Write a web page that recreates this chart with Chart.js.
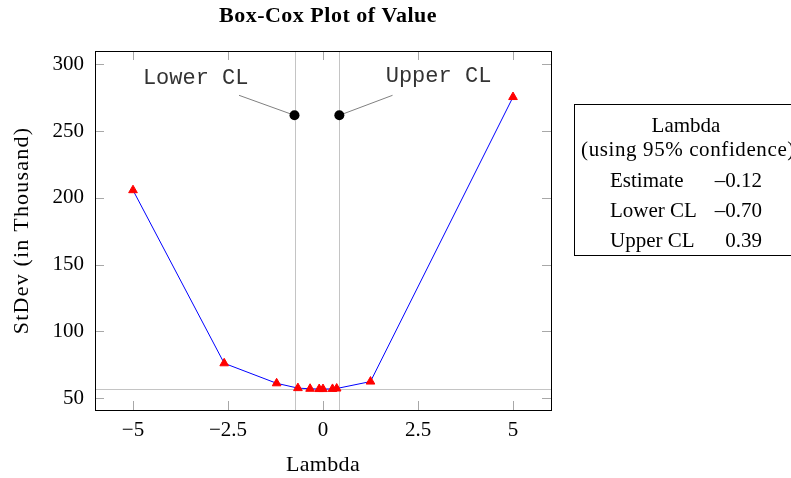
<!DOCTYPE html>
<html>
<head>
<meta charset="utf-8">
<script src="https://cdn.jsdelivr.net/npm/chart.js@4"></script>
<style>
  html, body { margin: 0; padding: 0; background: #fff; }
  #wrap { width: 791px; height: 478px; }
</style>
</head>
<body>
<div id="wrap"><canvas id="c" width="791" height="478"></canvas></div>
<script>
// ---- data ----
const lambdaValues = [-5, -2.6, -1.22, -0.66, -0.34, -0.1, 0.0, 0.25, 0.36, 1.25, 5];
const stdevValues  = [205.7, 76, 61, 57.4, 56.9, 56.7, 56.7, 56.8, 57.1, 62.3, 275.5];
const clLambda = [-0.75, 0.43];
const clStdev  = [261.8, 261.8];
const minStdev = 56.7;
const xTickValues = [-5, -2.5, 0, 2.5, 5];
const yTickValues = [50, 100, 150, 200, 250, 300];
const legendTitle = ['Lambda', '(using 95% confidence)'];
const legendRows = [['Estimate', '\u20130.12'], ['Lower CL', '\u20130.70'], ['Upper CL', '0.39']];
const clLabels = ['Lower CL', 'Upper CL'];
const chartTitle = 'Box-Cox Plot of Value';
const xTitle = 'Lambda';
const yTitle = 'StDev (in Thousand)';

const fmt = v => (v < 0 ? '\u2212' + Math.abs(v) : String(v));
const SERIF = '"Liberation Serif", "Times New Roman", serif';

const decor = {
  id: 'decor',
  beforeDatasetsDraw(chart) {
    const {ctx, chartArea: a, scales: {x, y}} = chart;
    ctx.save();
    ctx.strokeStyle = '#c4c4c4';
    ctx.lineWidth = 1;
    clLambda.forEach(v => {
      const px = Math.round(x.getPixelForValue(v)) + 0.5;
      ctx.beginPath(); ctx.moveTo(px, a.top); ctx.lineTo(px, a.bottom); ctx.stroke();
    });
    const py = Math.round(y.getPixelForValue(minStdev)) + 0.5;
    ctx.beginPath(); ctx.moveTo(a.left, py); ctx.lineTo(a.right, py); ctx.stroke();
    // inner tick marks
    ctx.strokeStyle = '#a8a8a8';
    const tl = 9;
    xTickValues.forEach(v => {
      const px = Math.round(x.getPixelForValue(v)) + 0.5;
      ctx.beginPath(); ctx.moveTo(px, a.bottom); ctx.lineTo(px, a.bottom - tl); ctx.stroke();
      ctx.beginPath(); ctx.moveTo(px, a.top); ctx.lineTo(px, a.top + tl); ctx.stroke();
    });
    yTickValues.forEach(v => {
      const p = Math.round(y.getPixelForValue(v)) + 0.5;
      ctx.beginPath(); ctx.moveTo(a.left, p); ctx.lineTo(a.left + tl, p); ctx.stroke();
      ctx.beginPath(); ctx.moveTo(a.right, p); ctx.lineTo(a.right - tl, p); ctx.stroke();
    });
    // annotation leader lines (data coordinates)
    const leaders = [[-2.21, 276.8], [1.83, 276.8]];
    ctx.strokeStyle = '#808080';
    leaders.forEach((s, i) => {
      ctx.beginPath();
      ctx.moveTo(x.getPixelForValue(s[0]), y.getPixelForValue(s[1]));
      ctx.lineTo(x.getPixelForValue(clLambda[i]), y.getPixelForValue(clStdev[i]));
      ctx.stroke();
    });
    ctx.restore();
  },
  afterDraw(chart) {
    const {ctx, chartArea: a, scales: {x, y}} = chart;
    ctx.save();
    // frame
    ctx.strokeStyle = '#000';
    ctx.lineWidth = 1;
    ctx.strokeRect(Math.round(a.left) + 0.5, Math.round(a.top) + 0.5,
                   Math.round(a.right - a.left), Math.round(a.bottom - a.top));
    // title
    ctx.fillStyle = '#000';
    ctx.textAlign = 'center';
    ctx.textBaseline = 'alphabetic';
    ctx.font = 'bold 22px ' + SERIF;
    ctx.letterSpacing = '0.5px';
    ctx.fillText(chartTitle, 328, 22);
    // axis titles
    ctx.font = '22px ' + SERIF;
    ctx.letterSpacing = '0.3px';
    ctx.textBaseline = 'middle';
    ctx.fillText(xTitle, (a.left + a.right) / 2, 465);
    ctx.save();
    ctx.translate(22, (a.top + a.bottom) / 2);
    ctx.rotate(-Math.PI / 2);
    ctx.letterSpacing = '1.2px';
    ctx.fillText(yTitle, 0, 0);
    ctx.restore();
    ctx.letterSpacing = '0px';
    // annotation text
    ctx.font = '22px "Liberation Mono", monospace';
    ctx.fillStyle = '#333';
    const labPos = [[-3.35, 290.0], [3.04, 291.5]];
    labPos.forEach((p, i) => {
      ctx.textBaseline = 'middle';
      ctx.fillText(clLabels[i], x.getPixelForValue(p[0]), y.getPixelForValue(p[1]));
    });
    // legend box
    ctx.strokeStyle = '#000';
    ctx.strokeRect(574.5, 104.5, 230, 151);
    ctx.fillStyle = '#000';
    ctx.font = '21px ' + SERIF;
    ctx.textBaseline = 'alphabetic';
    ctx.textAlign = 'center';
    ctx.fillText(legendTitle[0], 686, 132);
    ctx.letterSpacing = '0.6px';
    ctx.fillText(legendTitle[1], 688, 156);
    ctx.letterSpacing = '0px';
    const base = [187, 217, 247];
    legendRows.forEach((r, i) => {
      ctx.textAlign = 'left';
      ctx.fillText(r[0], 610, base[i]);
      ctx.textAlign = 'right';
      ctx.fillText(r[1], 762, base[i]);
    });
    ctx.restore();
  }
};

new Chart(document.getElementById('c'), {
  type: 'scatter',
  data: {
    datasets: [
      {
        data: lambdaValues.map((v, i) => ({x: v, y: stdevValues[i]})),
        showLine: true,
        borderColor: '#0000ff',
        borderWidth: 1,
        pointStyle: 'triangle',
        pointRadius: 5,
        pointBackgroundColor: '#ff0000',
        pointBorderColor: '#ff0000',
        pointBorderWidth: 1,
        order: 2
      },
      {
        data: clLambda.map((v, i) => ({x: v, y: clStdev[i]})),
        showLine: false,
        pointStyle: 'circle',
        pointRadius: 5,
        pointBackgroundColor: '#000',
        pointBorderColor: '#000',
        pointBorderWidth: 0,
        order: 1
      }
    ]
  },
  options: {
    responsive: false,
    animation: false,
    devicePixelRatio: 1,
    layout: { padding: { left: 0, top: 51, right: 240, bottom: 0 } },
    plugins: { legend: { display: false }, title: { display: false }, tooltip: { enabled: false } },
    scales: {
      x: {
        type: 'linear', min: -6, max: 6,
        afterFit: s => { s.height = 68; },
        afterBuildTicks: s => { s.ticks = xTickValues.map(v => ({value: v})); },
        grid: { display: false, drawTicks: false },
        border: { display: false },
        ticks: { color: '#000', padding: 8, maxRotation: 0, autoSkip: false,
                 font: { family: SERIF, size: 21 },
                 callback: v => fmt(v) },
        title: { display: false }
      },
      y: {
        type: 'linear', min: 41, max: 310,
        afterFit: s => { s.width = 95; },
        afterBuildTicks: s => { s.ticks = yTickValues.map(v => ({value: v})); },
        grid: { display: false, drawTicks: false },
        border: { display: false },
        ticks: { color: '#000', padding: 11, autoSkip: false,
                 font: { family: SERIF, size: 21 },
                 callback: v => fmt(v) },
        title: { display: false }
      }
    }
  },
  plugins: [decor]
});
</script>
</body>
</html>
